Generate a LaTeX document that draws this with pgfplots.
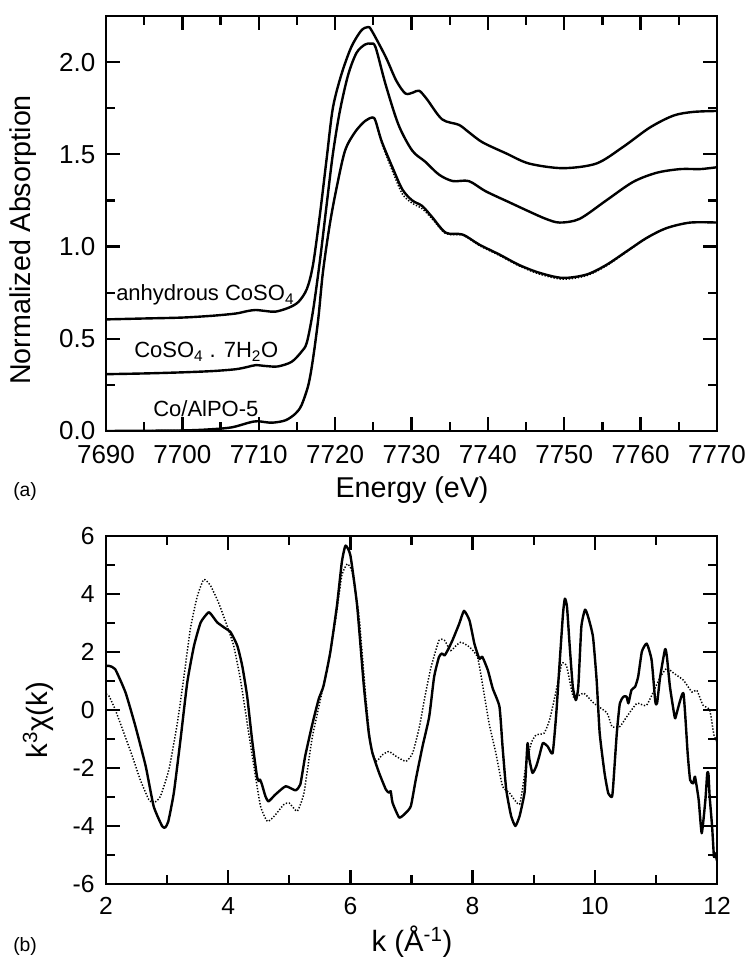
\documentclass[border=0pt]{standalone}
\usepackage{fontspec}
\setmainfont{Liberation Sans}
\usepackage{pgfplots}
\pgfplotsset{compat=1.18}

\pgfplotstableread{
E y
7690 0.605
7695 0.610
7700 0.615
7704 0.625
7707 0.637
7708.5 0.650
7709.6 0.656
7711 0.650
7712.2 0.647
7713.9 0.668
7715.2 0.70
7716.3 0.77
7717.1 0.90
7718.0 1.17
7718.9 1.48
7719.7 1.75
7720.8 1.93
7722.1 2.08
7723.4 2.17
7724.3 2.19
7724.8 2.17
7726.6 2.03
7728.0 1.90
7729.2 1.83
7730.2 1.835
7731.0 1.845
7732.0 1.80
7734.0 1.69
7736.2 1.66
7737.5 1.62
7739.3 1.565
7742.4 1.505
7745.4 1.45
7749.8 1.425
7754.2 1.45
7757.7 1.54
7761.2 1.645
7764.3 1.71
7766.9 1.73
7770 1.735
}\anhyd

\pgfplotstableread{
E y
7690 0.308
7695 0.312
7700 0.318
7704 0.325
7707 0.335
7708.5 0.347
7709.6 0.357
7711 0.352
7712.5 0.350
7714.3 0.375
7715.6 0.43
7716.3 0.48
7717.1 0.65
7718.0 0.92
7718.9 1.23
7719.7 1.50
7720.6 1.73
7721.7 1.93
7722.8 2.05
7723.9 2.095
7724.7 2.10
7725.3 2.08
7726.6 1.88
7728.3 1.66
7730.1 1.52
7731.8 1.46
7733.6 1.39
7735.4 1.355
7737.5 1.355
7739.7 1.30
7742.8 1.24
7745.4 1.19
7747.6 1.15
7749.4 1.13
7752.0 1.15
7755.5 1.25
7759.0 1.35
7762.1 1.40
7765.2 1.42
7767.8 1.42
7770 1.43
}\hydr

\pgfplotstableread{
E y
7690 0.0
7700 0.003
7704 0.010
7706.5 0.020
7708.7 0.045
7709.8 0.053
7711.7 0.045
7713.5 0.058
7714.8 0.094
7715.6 0.14
7716.5 0.25
7717.1 0.39
7717.8 0.61
7718.4 0.86
7719.3 1.12
7720.2 1.32
7721.3 1.52
7722.6 1.62
7723.9 1.68
7724.9 1.70
7725.3 1.68
7726.1 1.57
7727.5 1.43
7728.8 1.31
7730.1 1.25
7731.4 1.22
7732.7 1.16
7734.5 1.075
7736.7 1.065
7738.9 1.01
7741.5 0.957
7744.1 0.90
7746.8 0.857
7749.8 0.83
7752.9 0.848
7755.5 0.90
7758.2 0.975
7760.8 1.047
7763.4 1.10
7766.5 1.13
7770 1.13
}\alpo

\pgfplotstableread{
E y
7690 0.0
7700 0.003
7704 0.010
7706.5 0.020
7708.7 0.045
7709.8 0.053
7711.7 0.045
7713.5 0.058
7714.8 0.094
7715.6 0.14
7716.5 0.25
7717.1 0.39
7717.8 0.61
7718.4 0.86
7719.3 1.12
7720.2 1.32
7721.3 1.52
7722.6 1.62
7723.9 1.68
7724.9 1.70
7725.3 1.68
7726.1 1.56
7727.5 1.41
7728.8 1.285
7730.1 1.235
7731.4 1.205
7732.7 1.15
7734.5 1.07
7736.7 1.062
7738.9 1.005
7741.5 0.952
7744.1 0.895
7746.8 0.850
7749.8 0.823
7752.9 0.842
7755.5 0.895
7758.2 0.972
7760.8 1.045
7763.4 1.10
7766.5 1.13
7770 1.13
}\alpofit

\pgfplotstableread{
k y
2.00 1.52
2.05 1.52
2.15 1.41
2.32 0.60
2.48 -0.55
2.65 -1.94
2.78 -3.32
2.92 -4.01
2.97 -4.05
3.02 -3.84
3.11 -2.86
3.22 -1.01
3.33 0.95
3.44 2.21
3.55 3.02
3.68 3.37
3.76 3.19
3.82 3.02
3.93 2.85
4.04 2.68
4.15 2.21
4.23 1.52
4.31 0.48
4.39 -1.01
4.47 -2.28
4.50 -2.45
4.52 -2.40
4.55 -2.55
4.61 -2.98
4.66 -3.15
4.77 -2.92
4.94 -2.63
5.10 -2.77
5.18 -2.57
5.26 -1.59
5.37 -0.55
5.48 0.37
5.56 0.83
5.67 1.98
5.78 3.60
5.86 5.10
5.92 5.67
6.00 5.33
6.11 3.60
6.22 0.83
6.30 -0.78
6.36 -1.48
6.47 -2.17
6.58 -2.74
6.63 -2.85
6.66 -2.80
6.69 -3.20
6.80 -3.71
6.91 -3.54
6.99 -3.31
7.07 -2.40
7.18 -1.26
7.29 -0.23
7.37 1.14
7.45 1.83
7.50 1.95
7.54 1.88
7.59 2.05
7.67 2.40
7.78 2.97
7.86 3.42
7.95 3.08
8.03 2.28
8.11 1.77
8.16 1.83
8.25 1.37
8.33 0.74
8.44 0.11
8.49 -1.26
8.55 -2.74
8.63 -3.65
8.70 -4.00
8.77 -3.65
8.85 -2.85
8.88 -1.80
8.90 -1.14
8.93 -1.71
8.98 -2.17
9.04 -1.95
9.09 -1.60
9.15 -1.14
9.23 -1.26
9.31 -1.49
9.37 -0.11
9.42 1.49
9.48 3.33
9.51 3.84
9.545 3.56
9.59 2.18
9.64 0.80
9.69 0.34
9.73 0.80
9.78 2.87
9.84 3.46
9.89 3.22
9.97 2.53
10.03 1.03
10.08 -0.80
10.16 -2.18
10.22 -2.87
10.28 -3.00
10.30 -2.64
10.36 -0.80
10.41 0.23
10.47 0.46
10.52 0.46
10.55 0.23
10.60 0.69
10.66 0.80
10.71 1.15
10.77 2.01
10.85 2.29
10.93 1.72
10.99 0.29
11.02 0.24
11.07 1.15
11.15 2.10
11.18 1.84
11.23 0.80
11.31 -0.27
11.34 -0.11
11.45 0.58
11.52 -1.50
11.56 -2.41
11.61 -2.53
11.64 -2.30
11.70 -3.10
11.75 -4.25
11.81 -3.10
11.84 -2.18
11.86 -2.20
11.88 -2.99
11.92 -4.02
11.95 -5.06
11.97 -4.94
12.00 -5.20
}\chisolid

\pgfplotstableread{
k y
2.00 0.55
2.05 0.48
2.15 0.02
2.29 -0.78
2.43 -1.59
2.56 -2.40
2.70 -3.09
2.78 -3.21
2.89 -2.98
3.03 -2.05
3.16 -0.55
3.27 1.06
3.38 2.79
3.49 3.89
3.60 4.50
3.71 4.29
3.85 3.66
3.98 2.91
4.09 2.21
4.20 1.06
4.31 -0.44
4.42 -1.94
4.53 -3.32
4.64 -3.84
4.75 -3.67
4.91 -3.26
5.00 -3.21
5.13 -3.49
5.24 -2.86
5.37 -1.01
5.51 0.37
5.65 1.75
5.76 3.14
5.86 4.64
5.95 5.04
6.03 4.75
6.14 3.25
6.25 0.50
6.33 -1.20
6.42 -1.77
6.52 -1.55
6.63 -1.43
6.75 -1.60
6.91 -1.77
7.02 -1.48
7.13 -0.57
7.23 0.57
7.32 1.48
7.45 2.40
7.54 2.40
7.64 2.05
7.72 2.20
7.81 2.34
7.95 2.17
8.08 1.83
8.16 0.91
8.27 -0.46
8.38 -1.48
8.49 -2.63
8.60 -2.85
8.77 -3.25
8.87 -1.94
8.96 -1.14
9.04 -0.86
9.17 -0.80
9.26 -0.34
9.36 0.60
9.46 1.60
9.54 1.50
9.65 0.45
9.82 0.58
9.98 0.24
10.20 -0.10
10.28 -0.57
10.41 -0.57
10.52 -0.24
10.69 0.23
10.85 0.17
11.07 1.13
11.18 1.44
11.29 1.27
11.45 1.03
11.59 0.62
11.67 0.68
11.77 0.17
11.88 0.00
11.95 -0.86
12.00 -1.10
}\chifit

\pgfplotsset{
  panel/.style={
    scale only axis,
    width=458.25pt,
    axis line style={line width=2.2pt},
    every tick/.style={black, line width=1.7pt},
    major tick length=10.5pt,
    minor tick length=6.5pt,
    tick align=inside,
    /pgf/number format/assume math mode=true,
  },
  solidline/.style={black, line width=1.8pt, line join=round},
  dotline/.style={black, line width=1.1pt, dash pattern=on 1pt off 1.3pt},
}

\begin{document}
\begin{tikzpicture}
\path[use as bounding box] (0,0) rectangle (561pt,717.75pt);

\begin{axis}[panel,
  at={(79.5pt,394.5pt)}, anchor=south west,
  height=311.25pt,
  xmin=7690, xmax=7770, ymin=0, ymax=2.25,
  xtick={7690,7700,...,7770}, minor x tick num=1,
  ytick={0,0.5,1.0,1.5,2.0}, minor y tick num=1,
  tick label style={font=\fontsize{19.5}{19.5}\selectfont},
  x tick label style={/pgf/number format/1000 sep={}, yshift=-7pt},
  y tick label style={/pgf/number format/.cd, fixed, fixed zerofill, precision=1, /tikz/.cd, xshift=-4.5pt},
]
\addplot[solidline, smooth, tension=0.5] table[x=E, y=y] {\anhyd};
\addplot[solidline, smooth, tension=0.5] table[x=E, y=y] {\hydr};
\addplot[dotline, smooth, tension=0.5] table[x=E, y=y] {\alpofit};
\addplot[solidline, smooth, tension=0.5] table[x=E, y=y] {\alpo};
\end{axis}

\node[anchor=base west, inner sep=0pt, font=\fontsize{16.5}{16.5}\selectfont] at (87pt,492pt) {anhydrous CoSO\textsubscript{4}};
\node[anchor=base west, inner sep=0pt, font=\fontsize{16.5}{16.5}\selectfont] at (100.5pt,449.25pt) {CoSO\textsubscript{4} . 7H\textsubscript{2}O};
\node[anchor=base west, inner sep=0pt, font=\fontsize{16.5}{16.5}\selectfont] at (114.75pt,405pt) {Co/AlPO-5};

\node[rotate=90, inner sep=0pt, font=\fontsize{21.5}{21.5}\selectfont] at (17.25pt,537.75pt) {Normalized Absorption};
\node[anchor=base, inner sep=0pt, font=\fontsize{21.5}{21.5}\selectfont] at (309pt,344.25pt) {Energy (eV)};
\node[anchor=base west, inner sep=0pt, font=\fontsize{14.5}{14.5}\selectfont] at (9.75pt,345pt) {(a)};

\begin{axis}[panel,
  at={(79.5pt,54.75pt)}, anchor=south west,
  height=261pt,
  xmin=2, xmax=12, ymin=-6, ymax=6,
  xtick={2,4,...,12}, minor x tick num=1,
  ytick={-6,-4,...,6}, minor y tick num=1,
  tick label style={font=\fontsize{18.5}{18.5}\selectfont},
  x tick label style={yshift=-6.5pt},
  y tick label style={xshift=-5pt},
]
\addplot[dotline, smooth, tension=0.3] table[x=k, y=y] {\chifit};
\addplot[solidline, smooth, tension=0.3] table[x=k, y=y] {\chisolid};
\end{axis}

\node[rotate=90, inner sep=0pt, font=\fontsize{22}{22}\selectfont] at (28.5pt,177.75pt) {k\textsuperscript{3}χ(k)};
\node[anchor=base, inner sep=0pt, font=\fontsize{22}{22}\selectfont] at (309pt,3.75pt) {k (Å\textsuperscript{-1})};
\node[anchor=base west, inner sep=0pt, font=\fontsize{14.5}{14.5}\selectfont] at (9.75pt,4.5pt) {(b)};
\end{tikzpicture}
\end{document}
